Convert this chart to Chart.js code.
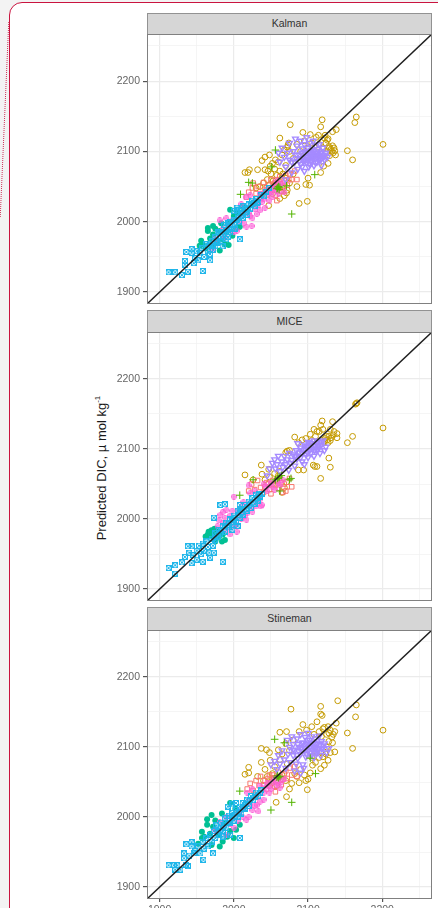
<!DOCTYPE html>
<html lang="en">
<head>
  <meta charset="UTF-8">
  <title>Predicted DIC</title>
  <script src="https://cdn.jsdelivr.net/npm/chart.js"></script>
  <style>
    html, body { margin: 0; padding: 0; width: 438px; height: 908px; overflow: hidden; background: #f3f3f3; font-family: "Liberation Sans", Arial, sans-serif; }
    #card { position: absolute; left: 9px; top: 2px; width: 600px; height: 1000px; background: #fff; border: 1px solid #c9143f; border-radius: 13px; }
    #stray { position: absolute; left: 4px; top: 22px; width: 0; height: 195px; border-left: 1px dotted #d0345a; transform: rotate(2.5deg); }
    .panel { position: absolute; left: 100px; width: 338px; filter: blur(0.45px); }
    .strip { position: absolute; left: 147px; width: 285px; background: #d6d6d6; border: 1px solid #929292; border-bottom: 0; box-sizing: border-box; text-align: center; font-size: 10.5px; color: #333; }
    #ylab { position: absolute; left: 101px; top: 468px; white-space: nowrap; font-size: 13px; color: #1a1a1a; transform: translate(-50%, -50%) rotate(-90deg); }
    #ylab sup { font-size: 8px; line-height: 0; }
  </style>
</head>
<body>
  <div id="card"></div>
  <div id="stray"></div>
  <div id="ylab">Predicted DIC, &micro; mol kg<sup>-1</sup></div>

  <div class="strip" style="top:13px;height:21px;line-height:19px">Kalman</div>
  <div class="panel" style="top:34px;height:270px"><canvas id="kalmanChart"></canvas></div>
  <div class="strip" style="top:310px;height:22px;line-height:20px">MICE</div>
  <div class="panel" style="top:332px;height:269px"><canvas id="miceChart"></canvas></div>
  <div class="strip" style="top:607px;height:23px;line-height:21px">Stineman</div>
  <div class="panel" style="top:630px;height:300px"><canvas id="stinemanChart"></canvas></div>

  <script>
    const axisMin = 1883;
    const axisMax = 2267;
    const majorTicks = [1900, 2000, 2100, 2200];
    const minorTicks = [1950, 2050, 2150, 2250];
    const diagonal = [[1883, 1883], [2267, 2267]];

    // Kalman panel
    const kalmanGold = [[2119,2145],[2117,2135],[2076,2138],[2165,2149],[2163,2141],[2138,2131],[2133,2128],[2201,2110],[2153,2101],[2160,2088],[2137,2095],[2136,2101],[2133,2108],[2129,2094],[2127,2083],[2121,2079],[2117,2070],[2062,2119],[2073,2109],[2093,2127],[2103,2124],[2114,2123],[2111,2120],[2127,2118],[2123,2123],[2038,2087],[2042,2092],[2048,2095],[2021,2074],[2015,2070],[2019,2070],[2032,2074],[2042,2074],[2049,2079],[2100,2062],[2097,2053],[2102,2052],[2088,2026],[2099,2029],[2071,2041],[2068,2037],[2047,2023],[2055,2075],[2060,2085],[2065,2095],[2070,2080],[2075,2100],[2080,2090],[2085,2110],[2090,2100],[2095,2115],[2100,2105],[2105,2112],[2110,2100],[2115,2110],[2120,2105],[2125,2098],[2128,2107],[2132,2100],[2135,2105],[2045,2060],[2050,2068],[2055,2052],[2060,2058],[2065,2048],[2070,2062],[2075,2055],[2080,2068],[2085,2050],[2040,2055],[2035,2050],[2045,2045],[2052,2040],[2062,2033],[2072,2045],[2030,2048],[2126,2116],[2124,2112],[2122,2119],[2129,2105],[2131,2103],[2134,2098],[2072,2106],[2074,2112],[2068,2102],[2052,2083],[2056,2088],[2046,2072],[2062,2072],[2066,2068],[2058,2066],[2048,2052],[2053,2058],[2063,2044]];
    const kalmanSalmon = [[2017,2035],[2020,2042],[2025,2048],[2026,2055],[2030,2040],[2033,2050],[2036,2033],[2040,2056],[2042,2045],[2045,2038],[2047,2052],[2050,2060],[2052,2046],[2055,2055],[2056,2038],[2060,2050],[2062,2064],[2065,2043],[2068,2058],[2072,2052],[2075,2068],[2078,2060],[2082,2072],[2085,2060],[2058,2030],[2038,2040],[2044,2048],[2049,2044],[2053,2052],[2057,2060],[2063,2054],[2067,2050],[2070,2066],[2074,2060]];
    const kalmanGreen = [[2056,2102],[2020,2056],[2009,2039],[2025,2055],[2109,2067],[2078,2011],[2060,2050],[2059,2048],[2061,2046],[2058,2047],[2062,2049],[2051,2078],[2071,2051]];
    const kalmanTeal = [[1954,1966],[1956,1973],[1958,1968],[1965,1991],[1965,1987],[1968,1976],[1972,1994],[1972,1982],[1975,1990],[1978,1970],[1981,1959],[1981,1987],[1983,1998],[1985,1975],[1988,1968],[1990,1985],[1993,1967],[1995,2017],[1996,2000],[1998,1980],[2000,2008],[2003,1990],[2008,1993],[2005,2013],[1962,1962],[1970,1965],[2012,2021],[2007,1993]];
    const kalmanPink = [[1981,2002],[1985,1990],[1975,1975],[1990,2005],[1995,1995],[2000,1985],[2004,1987],[2008,2000],[2012,2010],[2017,1993],[2024,1994],[2020,2012],[2025,2005],[2031,2011],[2035,2016],[2030,2025],[2016,2035],[2022,2038],[2028,2030],[2035,2040],[2040,2032],[2045,2045],[2050,2042],[2055,2050],[2060,2040],[2058,2058],[2065,2055],[2048,2030],[2052,2035],[2042,2020],[2038,2028],[2068,2042],[1970,1960],[1988,1978],[2010,2025],[2037,2034],[2042,2042],[2047,2040],[2053,2046],[2057,2044],[2062,2052],[2014,1998],[2022,2008],[2028,2018],[2033,2024],[1992,1988],[1998,2002]];
    const kalmanBlue = [[1912,1928],[1921,1928],[1938,1929],[1930,1924],[1934,1944],[1934,1939],[1936,1957],[1943,1961],[1943,1956],[1946,1941],[1958,1930],[2008,1975],[1968,1954],[2004,2020],[1948,1948],[1950,1958],[1952,1945],[1955,1955],[1957,1962],[1960,1950],[1962,1968],[1965,1958],[1967,1965],[1970,1972],[1972,1960],[1975,1978],[1977,1970],[1980,1985],[1982,1972],[1985,1982],[1987,1995],[1990,1988],[1992,1978],[1995,2000],[1997,1990],[2000,2003],[2002,1995],[2005,2010],[2007,2000],[2010,2015],[2012,2005],[2015,2018],[2018,2010],[2020,2025],[2022,2018],[2025,2030],[2028,2022],[2030,2032],[2033,2028],[2036,2038],[2040,2036],[2043,2042],[2047,2048],[1978,1985],[1985,1965],[1995,1985],[2000,2015],[1968,1945],[1983,1978],[1988,1985],[1993,1990],[1998,1996],[2003,2003],[2006,2006],[2009,2008],[2013,2012],[2016,2014],[2019,2020],[2023,2024],[2027,2027],[2031,2026],[1972,1968],[1975,1965],[1990,1975],[2001,1990],[1992,1998],[2004,2016],[2012,2022]];
    const kalmanPurple = [[2060,2098],[2062,2085],[2065,2105],[2068,2092],[2070,2078],[2072,2098],[2075,2112],[2075,2088],[2078,2070],[2080,2100],[2082,2085],[2083,2118],[2085,2108],[2086,2075],[2088,2095],[2090,2115],[2090,2082],[2092,2104],[2093,2090],[2095,2072],[2095,2110],[2096,2098],[2098,2084],[2098,2120],[2100,2105],[2100,2092],[2101,2078],[2102,2112],[2103,2098],[2104,2086],[2105,2102],[2106,2093],[2107,2115],[2108,2080],[2108,2100],[2110,2090],[2110,2108],[2111,2097],[2112,2085],[2113,2103],[2114,2093],[2115,2110],[2116,2088],[2117,2098],[2118,2080],[2120,2095],[2120,2105],[2122,2088],[2124,2098],[2126,2092],[2070,2060],[2078,2085],[2085,2095],[2092,2098],[2094,2086],[2097,2092],[2099,2100],[2101,2088],[2103,2093],[2105,2084],[2106,2098],[2107,2089],[2109,2095],[2110,2084],[2112,2092],[2113,2098],[2115,2090],[2116,2094],[2118,2090],[2118,2100],[2121,2092],[2123,2094],[2100,2098],[2102,2082],[2104,2094],[2108,2092],[2096,2088],[2092,2078],[2088,2086],[2084,2090]];

    // MICE panel
    const miceGold = [[2165,2165],[2164,2164],[2166,2166],[2119,2140],[2133,2139],[2117,2134],[2108,2128],[2201,2130],[2160,2118],[2153,2109],[2135,2125],[2139,2122],[2139,2116],[2134,2120],[2127,2109],[2130,2112],[2123,2115],[2103,2121],[2097,2115],[2092,2113],[2082,2117],[2087,2109],[2072,2097],[2128,2087],[2130,2074],[2112,2075],[2107,2077],[2109,2075],[2117,2058],[2037,2077],[2047,2071],[2038,2064],[2015,2063],[2094,2070],[2087,2070],[2065,2038],[2071,2053],[2042,2056],[2026,2056],[2075,2098],[2120,2128],[2125,2118],[2115,2125],[2130,2128],[2110,2118],[2105,2112],[2048,2060],[2052,2050],[2060,2062],[2068,2045],[2126,2113],[2128,2118],[2122,2110],[2131,2116],[2118,2112],[2112,2125],[2070,2095],[2055,2065],[2058,2055],[2062,2068]];
    const miceSalmon = [[2020,2040],[2024,2050],[2028,2042],[2032,2055],[2036,2045],[2040,2038],[2044,2052],[2048,2042],[2052,2055],[2056,2048],[2060,2044],[2064,2052],[2066,2038],[2068,2050],[2072,2046],[2075,2058],[2078,2046],[2070,2040],[2050,2036],[2034,2034],[2042,2046],[2046,2050],[2054,2050],[2058,2056],[2062,2058]];
    const miceGreen = [[2008,2034],[2026,2056],[2077,2058],[2062,2040],[2059,2058],[2056,2056],[2061,2060],[2064,2062],[2075,2056]];
    const miceTeal = [[1965,1978],[1966,1982],[1968,1976],[1970,1984],[1972,1978],[1974,1986],[1976,1972],[1978,1982],[1980,1975],[1982,1980],[1984,1968],[1985,1978],[1988,1970],[1975,1968],[1962,1975]];
    const micePink = [[2000,2032],[1982,2006],[2038,2020],[2004,1982],[2022,2037],[2017,1999],[1990,2013],[1985,1995],[1990,1985],[1995,2005],[2000,1990],[2005,2012],[2010,2000],[2012,2018],[2015,2005],[2020,2022],[2025,2010],[2030,2025],[2035,2028],[2040,2050],[2045,2040],[2050,2052],[2055,2042],[2060,2052],[2062,2048],[2066,2056],[1978,1990],[1985,2010],[1995,1978],[2020,2048],[2030,2018],[2036,2018],[1980,1998],[1988,2002],[1992,1995],[1998,2012],[2003,1992],[2008,2008],[2013,2024],[2018,2008],[2025,2016],[2028,2040],[2044,2046],[2052,2046]];
    const miceBlue = [[1912,1930],[1921,1934],[1921,1922],[1930,1938],[1934,1946],[1943,1937],[1958,1939],[1985,1939],[1973,2002],[1982,2020],[1988,2021],[1973,1952],[1938,1961],[1943,1961],[1950,1942],[2008,2020],[1940,1952],[1945,1948],[1950,1955],[1953,1962],[1956,1950],[1958,1965],[1960,1955],[1963,1968],[1965,1960],[1967,1952],[1970,1972],[1972,1962],[1975,1980],[1978,1975],[1980,1985],[1982,1978],[1985,1990],[1988,1982],[1990,1995],[1993,1988],[1995,2000],[1998,1992],[2000,2005],[2003,1996],[2005,2012],[2008,2002],[2010,2015],[2012,2006],[2015,2020],[2018,2012],[2020,2025],[2023,2016],[2025,2030],[2028,2022],[2030,2035],[2032,2026],[2035,2032],[2038,2036],[1968,1945],[1998,1985],[2005,1990],[1983,1985],[1988,1990],[1993,1994],[1998,1998],[2002,2002],[2006,2006],[2011,2010],[2016,2014],[2021,2020],[2026,2024],[2031,2030],[2034,2036],[2000,1998],[2008,2014],[1975,1970]];
    const micePurple = [[2045,2062],[2048,2072],[2052,2080],[2055,2085],[2056,2072],[2058,2078],[2060,2090],[2062,2068],[2065,2082],[2066,2074],[2068,2090],[2070,2078],[2072,2085],[2074,2070],[2075,2094],[2078,2084],[2080,2092],[2082,2076],[2084,2098],[2085,2086],[2088,2095],[2090,2102],[2090,2088],[2092,2082],[2094,2098],[2095,2106],[2097,2092],[2098,2104],[2100,2088],[2100,2110],[2102,2098],[2104,2094],[2105,2106],[2106,2100],[2108,2112],[2108,2090],[2110,2104],[2112,2098],[2113,2110],[2115,2102],[2116,2094],[2118,2106],[2120,2112],[2122,2098],[2124,2103],[2086,2108],[2095,2078],[2092,2094],[2096,2100],[2099,2095],[2101,2103],[2103,2108],[2107,2104],[2109,2098],[2111,2108],[2114,2106],[2117,2110],[2113,2100],[2083,2090],[2087,2090],[2076,2080]];

    // Stineman panel
    const stinemanGold = [[2077,2154],[2140,2166],[2117,2158],[2165,2160],[2117,2147],[2119,2145],[2164,2143],[2112,2136],[2093,2132],[2201,2124],[2153,2120],[2160,2098],[2138,2134],[2136,2122],[2127,2129],[2105,2129],[2098,2124],[2088,2122],[2071,2122],[2062,2121],[2136,2093],[2130,2092],[2127,2081],[2122,2074],[2117,2069],[2106,2074],[2103,2063],[2097,2052],[2100,2054],[2099,2039],[2088,2049],[2071,2029],[2057,2021],[2037,2098],[2044,2096],[2048,2092],[2037,2078],[2049,2081],[2060,2096],[2020,2071],[2020,2063],[2015,2061],[2032,2058],[2042,2068],[2120,2086],[2133,2106],[2125,2118],[2130,2124],[2132,2114],[2120,2126],[2108,2118],[2115,2122],[2080,2110],[2070,2105],[2065,2090],[2075,2095],[2125,2100],[2115,2085],[2110,2078],[2090,2068],[2085,2058],[2078,2048],[2070,2052],[2065,2060],[2055,2072],[2052,2062],[2045,2058],[2040,2052],[2058,2045],[2048,2045],[2075,2040],[2082,2062],[2128,2120],[2122,2128],[2118,2115],[2134,2118],[2128,2108],[2124,2090],[2112,2092],[2105,2085],[2095,2060],[2072,2076],[2062,2082],[2055,2055],[2050,2050]];
    const stinemanSalmon = [[2018,2040],[2022,2048],[2026,2038],[2030,2052],[2034,2045],[2036,2058],[2040,2046],[2044,2040],[2046,2055],[2050,2048],[2052,2060],[2055,2044],[2058,2052],[2062,2058],[2064,2046],[2068,2062],[2072,2055],[2075,2070],[2078,2060],[2082,2072],[2085,2058],[2030,2028],[2056,2036],[2042,2052],[2048,2060],[2054,2056],[2060,2064],[2066,2054],[2070,2066]];
    const stinemanGreen = [[2055,2111],[2068,2106],[2008,2037],[2050,2010],[2078,2021],[2110,2062],[2059,2059],[2060,2056],[2058,2057],[2062,2058],[2103,2084]];
    const stinemanTeal = [[1970,2003],[1964,1997],[1984,2005],[1964,1989],[1957,1979],[1972,1986],[1957,1970],[1952,1962],[1981,1958],[1970,1960],[1995,2020],[2002,2012],[2008,1989],[2000,1970],[1991,1972],[1979,1974],[1977,1981],[1988,1991],[1968,1976],[1975,1995],[1960,1972],[1985,1965],[1995,1980],[2003,1982]];
    const stinemanPink = [[1981,1993],[2017,1996],[2033,2008],[2031,2017],[2020,2000],[2025,2010],[1985,1985],[1990,2000],[1995,1990],[2000,1985],[2005,1995],[2010,2010],[2015,2012],[2020,2025],[2030,2030],[2035,2022],[2040,2035],[2018,2035],[2025,2040],[2045,2048],[2050,2040],[2055,2055],[2060,2048],[2062,2042],[2068,2055],[2048,2035],[2040,2025],[1975,1982],[1990,1975],[2005,2005],[2035,2045],[2042,2042],[2047,2044],[2052,2050],[2057,2046],[2064,2050],[2012,2000],[2028,2016],[1998,1998],[2022,2018]];
    const stinemanBlue = [[1912,1931],[1919,1931],[1924,1931],[1921,1925],[1938,1930],[1933,1948],[1933,1941],[1936,1961],[1943,1964],[1943,1958],[1946,1948],[1959,1939],[2008,1970],[1972,1948],[2003,2020],[1928,1925],[1935,1932],[1940,1945],[1948,1952],[1952,1958],[1955,1948],[1958,1965],[1960,1955],[1963,1970],[1965,1958],[1968,1975],[1970,1965],[1973,1980],[1975,1970],[1978,1985],[1980,1975],[1983,1992],[1985,1980],[1988,1998],[1990,1985],[1993,2002],[1995,1992],[1998,2006],[2000,1995],[2003,2010],[2005,2000],[2008,2015],[2010,2005],[2012,2020],[2015,2012],[2018,2025],[2020,2016],[2023,2030],[2026,2024],[2030,2035],[2033,2030],[2037,2038],[1998,2018],[1992,2015],[1982,1980],[1987,1988],[1992,1992],[1997,1998],[2002,2002],[2007,2006],[2012,2012],[2017,2018],[2022,2024],[2028,2028],[2035,2034],[1976,1988],[1985,1972],[1995,1975]];
    const stinemanPurple = [[2050,2075],[2055,2080],[2058,2068],[2060,2088],[2062,2076],[2065,2095],[2068,2082],[2070,2070],[2072,2110],[2073,2090],[2075,2100],[2076,2078],[2078,2115],[2080,2088],[2080,2104],[2082,2095],[2084,2076],[2085,2112],[2086,2084],[2088,2100],[2090,2118],[2090,2090],[2092,2106],[2093,2075],[2095,2098],[2096,2114],[2097,2086],[2098,2104],[2100,2120],[2100,2094],[2102,2110],[2103,2100],[2104,2088],[2105,2115],[2106,2096],[2108,2106],[2108,2085],[2110,2112],[2110,2098],[2112,2092],[2113,2105],[2115,2116],[2115,2098],[2117,2088],[2118,2108],[2120,2098],[2122,2105],[2125,2092],[2128,2098],[2082,2066],[2090,2063],[2094,2070],[2087,2094],[2091,2098],[2094,2106],[2097,2096],[2099,2110],[2101,2102],[2103,2092],[2105,2106],[2107,2100],[2109,2092],[2111,2104],[2113,2096],[2116,2104],[2118,2098],[2121,2102],[2098,2090],[2086,2104],[2080,2096]];

    const seriesColors = { gold: '#c49a00', salmon: '#f8766d', green: '#53b400', teal: '#00c094', blue: '#1fb6ea', purple: '#a58aff', pink: '#fb61d7' };

    // square with an x through it, ggplot shape 7
    function squareCross(color, size) {
      const c = document.createElement('canvas');
      c.width = c.height = size;
      const g = c.getContext('2d');
      g.strokeStyle = color;
      g.lineWidth = 1;
      g.strokeRect(0.5, 0.5, size - 1, size - 1);
      g.beginPath();
      g.moveTo(1, 1); g.lineTo(size - 1, size - 1);
      g.moveTo(size - 1, 1); g.lineTo(1, size - 1);
      g.stroke();
      return c;
    }

    // circle with a plus through it, ggplot shape 10
    function circlePlus(color, size) {
      const c = document.createElement('canvas');
      c.width = c.height = size;
      const g = c.getContext('2d');
      const m = size / 2;
      g.strokeStyle = color;
      g.lineWidth = 1;
      g.beginPath();
      g.arc(m, m, m - 0.5, 0, Math.PI * 2);
      g.moveTo(m, 0); g.lineTo(m, size);
      g.moveTo(0, m); g.lineTo(size, m);
      g.stroke();
      return c;
    }

    function makePanel(id, d, showX) {
      const hollow = (data, color, style, extra) => Object.assign({
        data: data, pointStyle: style, pointRadius: 2.9, pointBorderColor: color,
        pointBackgroundColor: 'transparent', pointBorderWidth: 1, showLine: false
      }, extra || {});
      const tickList = axis => {
        axis.ticks = majorTicks.concat(minorTicks).sort((a, b) => a - b).map(v => ({ value: v }));
      };
      const noPadding = s => { s.paddingTop = 0; s.paddingBottom = 0; s.paddingLeft = 0; s.paddingRight = 0; };
      const gridColor = ctx => majorTicks.includes(ctx.tick.value) ? '#ebebeb' : '#f2f2f2';
      const gridWidth = ctx => majorTicks.includes(ctx.tick.value) ? 1.2 : 0.8;
      const tickColor = ctx => majorTicks.includes(ctx.tick.value) ? '#555' : 'transparent';
      const label = v => majorTicks.includes(v) ? String(v) : '';
      const tickFont = { family: '"Liberation Sans", Arial, sans-serif', size: 10.5 };

      return new Chart(document.getElementById(id), {
        type: 'scatter',
        data: {
          datasets: [
            { data: diagonal, showLine: true, borderColor: '#1f1f1f', borderWidth: 1.5, pointRadius: 0 },
            hollow(d.green, seriesColors.green, 'cross', { pointRadius: 3.8 }),
            hollow(d.purple, seriesColors.purple, 'triangle', { pointRotation: 180, pointRadius: 3.3, pointBorderWidth: 1.4 }),
            hollow(d.blue, seriesColors.blue, squareCross(seriesColors.blue, 6)),
            hollow(d.pink, seriesColors.pink, circlePlus(seriesColors.pink, 6)),
            { data: d.teal, pointStyle: 'circle', pointRadius: 3, pointBorderWidth: 0, pointBackgroundColor: seriesColors.teal },
            hollow(d.salmon, seriesColors.salmon, 'rect', { pointRadius: 3.2 }),
            hollow(d.gold, seriesColors.gold, 'circle')
          ]
        },
        options: {
          responsive: true,
          maintainAspectRatio: false,
          animation: false,
          layout: { autoPadding: false, padding: { left: 0, right: 6, top: 0, bottom: 0 } },
          plugins: { legend: { display: false }, tooltip: { enabled: false } },
          scales: {
            x: {
              type: 'linear', min: axisMin, max: axisMax, display: true,
              afterBuildTicks: tickList,
              afterFit: s => { s.height = showX ? 31 : 0; noPadding(s); },
              border: { display: false },
              grid: { color: gridColor, lineWidth: gridWidth, tickLength: showX ? 3 : 0, tickColor: tickColor },
              ticks: { display: showX, maxRotation: 0, autoSkip: false, padding: 2, color: '#666', font: tickFont, callback: label }
            },
            y: {
              type: 'linear', min: axisMin, max: axisMax,
              afterBuildTicks: tickList,
              afterFit: s => { s.width = 47; noPadding(s); },
              border: { display: false },
              grid: { color: gridColor, lineWidth: gridWidth, tickLength: 4, tickColor: tickColor },
              ticks: { autoSkip: false, padding: 3, color: '#666', font: tickFont, callback: label }
            }
          }
        },
        plugins: [{
          id: 'panelBorder',
          afterDatasetsDraw(chart) {
            const a = chart.chartArea;
            const g = chart.ctx;
            g.save();
            g.strokeStyle = '#808080';
            g.lineWidth = 1;
            g.strokeRect(a.left + 0.5, a.top + 0.5, a.width - 1, a.height - 1);
            g.restore();
          }
        }]
      });
    }

    makePanel('kalmanChart', { gold: kalmanGold, salmon: kalmanSalmon, green: kalmanGreen, teal: kalmanTeal, pink: kalmanPink, blue: kalmanBlue, purple: kalmanPurple }, false);
    makePanel('miceChart', { gold: miceGold, salmon: miceSalmon, green: miceGreen, teal: miceTeal, pink: micePink, blue: miceBlue, purple: micePurple }, false);
    makePanel('stinemanChart', { gold: stinemanGold, salmon: stinemanSalmon, green: stinemanGreen, teal: stinemanTeal, pink: stinemanPink, blue: stinemanBlue, purple: stinemanPurple }, true);
  </script>
</body>
</html>
